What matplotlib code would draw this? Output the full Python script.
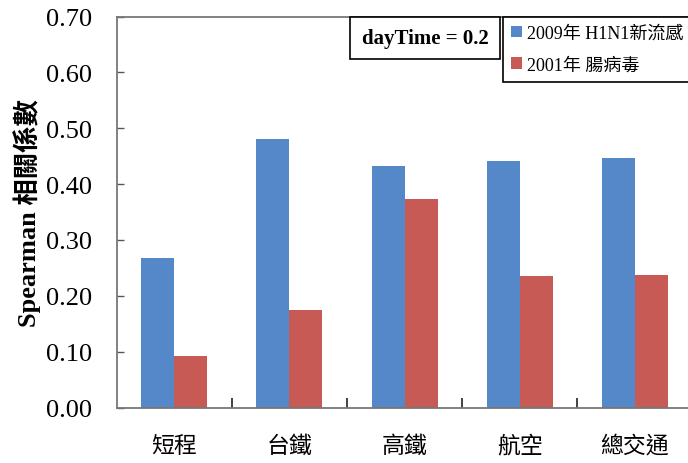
import matplotlib
matplotlib.use("Agg")
import matplotlib.pyplot as plt
import numpy as np
from matplotlib.patches import Patch

categories = ["短程", "台鐵", "高鐵", "航空", "總交通"]
h1n1_2009 = [0.267, 0.481, 0.433, 0.442, 0.446]
entero_2001 = [0.092, 0.174, 0.374, 0.236, 0.238]
series_labels = ["2009年 H1N1新流感", "2001年 腸病毒"]
yticks = [0.0, 0.1, 0.2, 0.3, 0.4, 0.5, 0.6, 0.7]

SERIF = ["Liberation Serif", "Noto Sans CJK TC"]
CJK = ["Noto Sans CJK TC", "Liberation Serif"]
BLUE = "#5588C8"
RED = "#C85A55"

fig = plt.figure(figsize=(6.88, 4.64), dpi=100)
ax = fig.add_axes([116.7 / 688, 1 - 408.5 / 464, (692.5 - 116.7) / 688, (408.5 - 17.5) / 464])

x = np.arange(len(categories))
w = 0.287
ax.bar(x - w / 2, h1n1_2009, width=w, color=BLUE, label=series_labels[0])
ax.bar(x + w / 2, entero_2001, width=w, color=RED, label=series_labels[1])

ax.set_xlim(-0.5, len(categories) - 0.5)
ax.set_ylim(0, 0.7)
ax.set_yticks(yticks)
ax.set_yticklabels([f"{v:.2f}" for v in yticks], fontfamily=SERIF, fontsize=19)
ax.tick_params(axis="y", direction="in", length=5, width=1, color="#555555", pad=18)

# category labels centred on groups, tick marks on boundaries
ax.set_xticks(x)
ax.set_xticklabels(categories, fontfamily=CJK, fontsize=16.5)
ax.tick_params(axis="x", which="major", length=0, pad=19)
ax.set_xticks(np.arange(0.5, len(categories) - 0.5, 1), minor=True)
ax.tick_params(axis="x", which="minor", direction="in", length=7, width=1.2, color="#222222")

for side in ["left", "bottom", "top"]:
    ax.spines[side].set_color("#777777")
    ax.spines[side].set_linewidth(1.3)
ax.spines["right"].set_visible(False)

ax.set_ylabel("Spearman 相關係數", fontfamily=SERIF, fontsize=19, fontweight="bold", labelpad=3)

# parameter annotation box
fig.text(425 / 688, 1 - 39 / 464, "dayTime = 0.2", fontfamily=SERIF, fontsize=15,
         fontweight="bold", ha="center", va="center",
         bbox=dict(boxstyle="square,pad=0.55", facecolor="white", edgecolor="black", linewidth=1.2))

handles = [Patch(facecolor=BLUE), Patch(facecolor=RED)]
leg = fig.legend(handles, series_labels, loc="upper left",
                 bbox_to_anchor=(503 / 688, 1 - 18 / 464), borderaxespad=0,
                 prop={"family": SERIF, "size": 13}, handlelength=0.6, handleheight=0.6,
                 handletextpad=0.3, labelspacing=0.8, borderpad=0.45,
                 fancybox=False, edgecolor="black", framealpha=1)
leg.get_frame().set_linewidth(1.2)

fig.savefig("out.png", dpi=100)
